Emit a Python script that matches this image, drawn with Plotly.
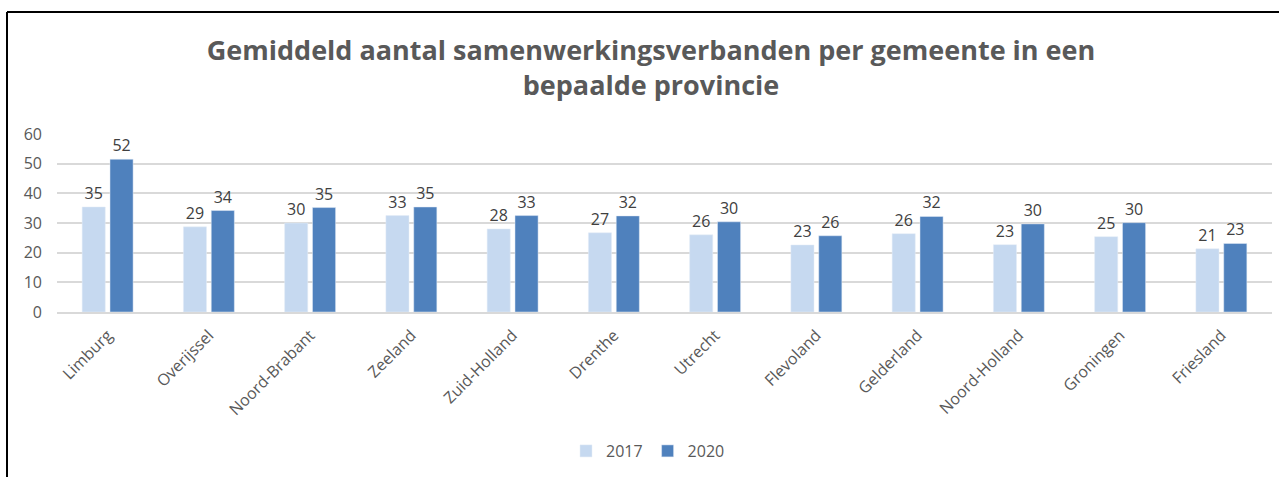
import plotly.graph_objects as go

# -- data
provincies = ["Limburg", "Overijssel", "Noord-Brabant", "Zeeland", "Zuid-Holland", "Drenthe",
              "Utrecht", "Flevoland", "Gelderland", "Noord-Holland", "Groningen", "Friesland"]
waarden_2017 = [35.4, 28.7, 30.0, 32.5, 28.0, 26.7, 26.0, 22.6, 26.4, 22.7, 25.4, 21.3]
waarden_2020 = [51.5, 34.2, 35.2, 35.4, 32.5, 32.4, 30.4, 25.7, 32.2, 29.7, 30.1, 23.1]

W, H = 1279, 477
ml, mr, mt, mb = 57, 7, 134, 165
pw, ph = W - ml - mr, H - mt - mb

font_family = "Open Sans"
grey = "#595959"

fig = go.Figure()
fig.add_trace(go.Bar(x=provincies, y=waarden_2017, name="2017",
                     marker=dict(color="#C6D9F0"),
                     text=waarden_2017, texttemplate="%{y:.0f}", textposition="outside",
                     textfont=dict(size=16, color="#404040"), cliponaxis=False))
fig.add_trace(go.Bar(x=provincies, y=waarden_2020, name="2020",
                     marker=dict(color="#4F81BD"),
                     text=waarden_2020, texttemplate="%{y:.0f}", textposition="outside",
                     textfont=dict(size=16, color="#404040"), cliponaxis=False))

fig.update_layout(
    width=W, height=H,
    margin=dict(l=ml, r=mr, t=mt, b=mb, pad=0),
    paper_bgcolor="white", plot_bgcolor="white",
    font=dict(family=font_family, color=grey),
    barmode="group", bargap=0.45, bargroupgap=0.17,
    title=dict(text="<b>Gemiddeld aantal samenwerkingsverbanden per gemeente in een<br>bepaalde provincie</b>",
               x=651 / W, xanchor="center", yref="container", y=(H - 60) / H, yanchor="middle",
               font=dict(size=27, color=grey, family=font_family)),
    legend=dict(orientation="h", x=(648 - ml) / pw, xanchor="center",
                y=((H - mb) - 451) / ph, yanchor="middle",
                font=dict(size=16, color=grey), itemwidth=30),
    showlegend=True,
)

fig.update_yaxes(range=[0, 60], dtick=10, showgrid=True, gridcolor="#D9D9D9", gridwidth=1.5,
                 zeroline=False, showline=False, ticks="", ticklabelstandoff=14,
                 tickfont=dict(size=16, color=grey))
fig.update_xaxes(showline=True, linecolor="#D9D9D9", linewidth=1.5, ticks="", tickangle=-45,
                 ticklabelstandoff=6, tickfont=dict(size=16, color=grey))

# -- black frame (left and top edges visible in the reference)
fx0 = (7 - ml) / pw
fy1 = ((H - mb) - 12) / ph
fig.add_shape(type="line", xref="paper", yref="paper", x0=fx0, x1=fx0, y0=-2, y1=fy1,
              line=dict(color="black", width=2))
fig.add_shape(type="line", xref="paper", yref="paper", x0=fx0, x1=1.1, y0=fy1, y1=fy1,
              line=dict(color="black", width=2))

# page has a default body margin; drop it so the figure sits at the window corner
fig.write_html("out.html", config={"displayModeBar": False},
               post_script="document.body.style.margin='0';")
